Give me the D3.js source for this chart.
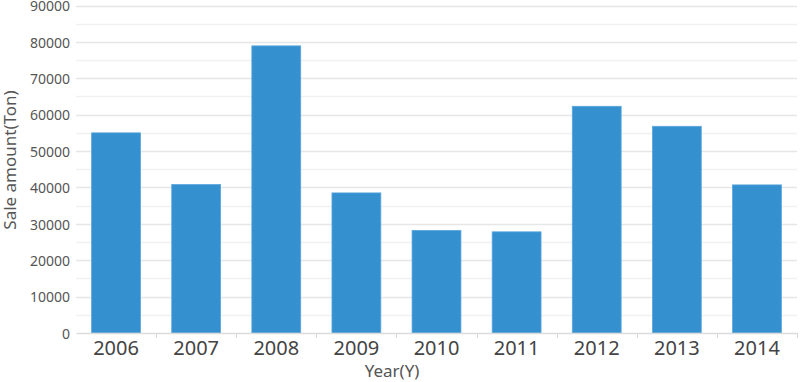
<!DOCTYPE html>
<html><head><meta charset="utf-8">
<script src="https://cdn.jsdelivr.net/npm/d3@7"></script>
<style>body{margin:0;background:#fff}svg{display:block}</style>
</head><body>
<svg id="c" width="800" height="382"></svg>
<script>
const years = ["2006","2007","2008","2009","2010","2011","2012","2013","2014"];
const sales = [55000, 40800, 78900, 38500, 28200, 27800, 62300, 56800, 40700];
const yTicks = [0,10000,20000,30000,40000,50000,60000,70000,80000,90000];
const minorTicks = [5000,15000,25000,35000,45000,55000,65000,75000,85000];

(function(){
const svg = d3.select("#c");
const mLeft = 76, mRight = 797, mTop = 5.5, mBottom = 333;
const font = "'Noto Sans', 'Open Sans', sans-serif";

const x = d3.scaleBand().domain(years).range([mLeft, mRight]).paddingInner(0.39).paddingOuter(0.195);
const y = d3.scaleLinear().domain([0, 90000]).range([mBottom, mTop]);

// minor grid
svg.append("g").selectAll("line").data(minorTicks).join("line")
  .attr("x1", mLeft).attr("x2", mRight)
  .attr("y1", d => Math.round(y(d)) + 0.5).attr("y2", d => Math.round(y(d)) + 0.5)
  .attr("stroke", "#f1f1f1").attr("stroke-width", 1.5);
// major grid
svg.append("g").selectAll("line").data(yTicks.filter(d => d > 0)).join("line")
  .attr("x1", mLeft).attr("x2", mRight)
  .attr("y1", d => Math.round(y(d)) + 0.5).attr("y2", d => Math.round(y(d)) + 0.5)
  .attr("stroke", "#e6e6e6").attr("stroke-width", 1.5);

// y axis labels
const ya = svg.append("g").attr("transform", `translate(${mLeft},0)`)
  .call(d3.axisLeft(y).tickValues(yTicks).tickSize(0).tickPadding(6).tickFormat(d3.format("d")));
ya.select(".domain").remove();
ya.selectAll("text").attr("font-family", font).attr("font-size", 14).attr("fill", "#555")
  .attr("dy", "0.38em");

// bars
svg.append("g").selectAll("rect").data(years).join("rect")
  .attr("x", d => x(d)).attr("width", x.bandwidth())
  .attr("y", (d, i) => y(sales[i])).attr("height", (d, i) => y(0) - y(sales[i]))
  .attr("fill", "#3590d0").attr("stroke", "#5aa6dc").attr("stroke-width", 0.8);

// x axis
const xa = svg.append("g").attr("transform", `translate(0,${mBottom})`)
  .call(d3.axisBottom(x).tickSize(0).tickPadding(8));
xa.select(".domain").attr("stroke", "#dcdcdc").attr("stroke-width", 1.5);
xa.selectAll("text").attr("font-family", font).attr("font-size", 20).attr("fill", "#444");
// boundary tick marks
const bounds = years.map(d => x(d) - x.step() * x.paddingInner() / 2).slice(1).concat([mRight]);
svg.append("g").selectAll("line").data(bounds).join("line")
  .attr("x1", d => Math.round(d) + 0.5).attr("x2", d => Math.round(d) + 0.5)
  .attr("y1", mBottom).attr("y2", mBottom + 5)
  .attr("stroke", "#d6d6d6").attr("stroke-width", 1);

// titles
svg.append("text").attr("x", 392).attr("y", 377)
  .attr("text-anchor", "middle").attr("font-family", font).attr("font-size", 17).attr("fill", "#555")
  .text("Year(Y)");
svg.append("text").attr("transform", `translate(16,160) rotate(-90)`)
  .attr("text-anchor", "middle").attr("font-family", font).attr("font-size", 17).attr("fill", "#555")
  .text("Sale amount(Ton)");
})();
</script>
</body></html>
